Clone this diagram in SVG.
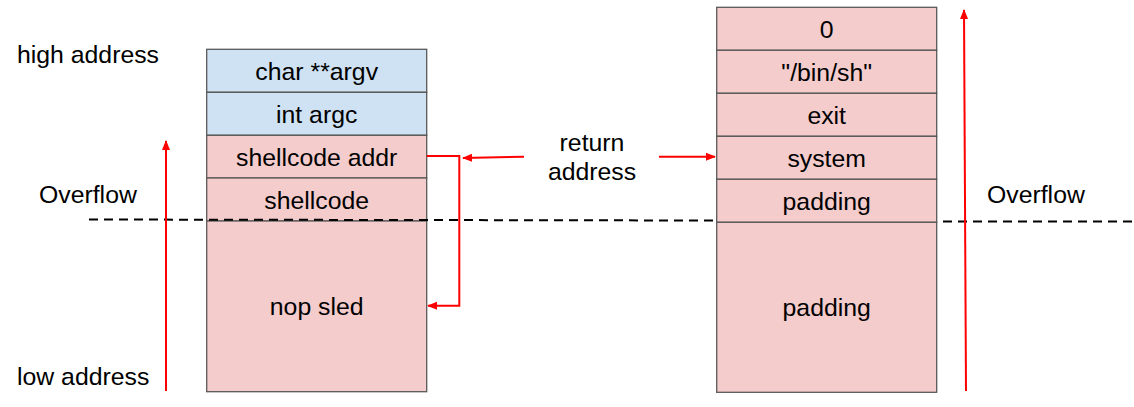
<svg xmlns="http://www.w3.org/2000/svg" width="1134" height="407" viewBox="0 0 1134 407">
<style>
text{font-family:"Liberation Sans",Arial,sans-serif;font-size:24.8px;fill:#000}
.c{text-anchor:middle}
.b{fill:#cfe2f3;stroke:#595959;stroke-width:1.3}
.p{fill:#f4cccc;stroke:#595959;stroke-width:1.3}
.r{stroke:#ff0000;stroke-width:2;fill:none}
.d{stroke:#000;stroke-width:2;stroke-dasharray:9,6;fill:none}
</style>
<defs>
<marker id="ah" viewBox="0 0 10 10" refX="9" refY="5" markerWidth="5" markerHeight="5" orient="auto" markerUnits="strokeWidth">
<path d="M0,1 L10,5 L0,9 z" fill="#ff0000"/>
</marker>
</defs>
<rect width="1134" height="407" fill="#fff"/>
<g id="labels">
<text x="17" y="63">high address</text>
<text x="17" y="385">low address</text>
<text x="39" y="203">Overflow</text>
<text x="987" y="203">Overflow</text>
<text class="c" x="592" y="151">return</text>
<text class="c" x="592" y="180">address</text>
</g>
<g id="left-stack">
<g id="argv"><rect class="b" x="206.7" y="49.3" width="220" height="43"/><text class="c" x="316.7" y="79.5">char **argv</text></g>
<g id="argc"><rect class="b" x="206.7" y="92.3" width="220" height="43"/><text class="c" x="316.7" y="122.5">int argc</text></g>
<g id="shellcode-addr"><rect class="p" x="206.7" y="135.3" width="220" height="42.7"/><text class="c" x="316.7" y="165.5">shellcode addr</text></g>
<g id="shellcode"><rect class="p" x="206.7" y="178" width="220" height="43"/><text class="c" x="316.7" y="208.5">shellcode</text></g>
<g id="nop-sled"><rect class="p" x="206.7" y="221" width="220" height="170.7"/><text class="c" x="316.7" y="315">nop sled</text></g>
</g>
<g id="right-stack">
<g id="zero"><rect class="p" x="716.7" y="7.3" width="220" height="43"/><text class="c" x="826.7" y="37.5">0</text></g>
<g id="binsh"><rect class="p" x="716.7" y="50.3" width="220" height="43"/><text class="c" x="826.7" y="80.5">"/bin/sh"</text></g>
<g id="exit"><rect class="p" x="716.7" y="93.3" width="220" height="43"/><text class="c" x="826.7" y="123.5">exit</text></g>
<g id="system"><rect class="p" x="716.7" y="136.3" width="220" height="43"/><text class="c" x="826.7" y="166.5">system</text></g>
<g id="padding1"><rect class="p" x="716.7" y="179.3" width="220" height="43"/><text class="c" x="826.7" y="209.5">padding</text></g>
<g id="padding2"><rect class="p" x="716.7" y="222.3" width="220" height="170"/><text class="c" x="826.7" y="316">padding</text></g>
</g>
<g id="connectors">
<path class="d" d="M89,219.5 L716,220.5"/>
<path class="d" d="M943,221.5 L1134,221.5"/>
<path class="r" d="M166,391 L166,141" marker-end="url(#ah)"/>
<path class="r" d="M966,391 L964,10" marker-end="url(#ah)"/>
<path class="r" d="M426.7,156 L459.3,156 L459.3,305.7 L428,305.7" marker-end="url(#ah)"/>
<path class="r" d="M524,156.7 L463,158" marker-end="url(#ah)"/>
<path class="r" d="M659,156.7 L715,156.7" marker-end="url(#ah)"/>
</g>
</svg>
